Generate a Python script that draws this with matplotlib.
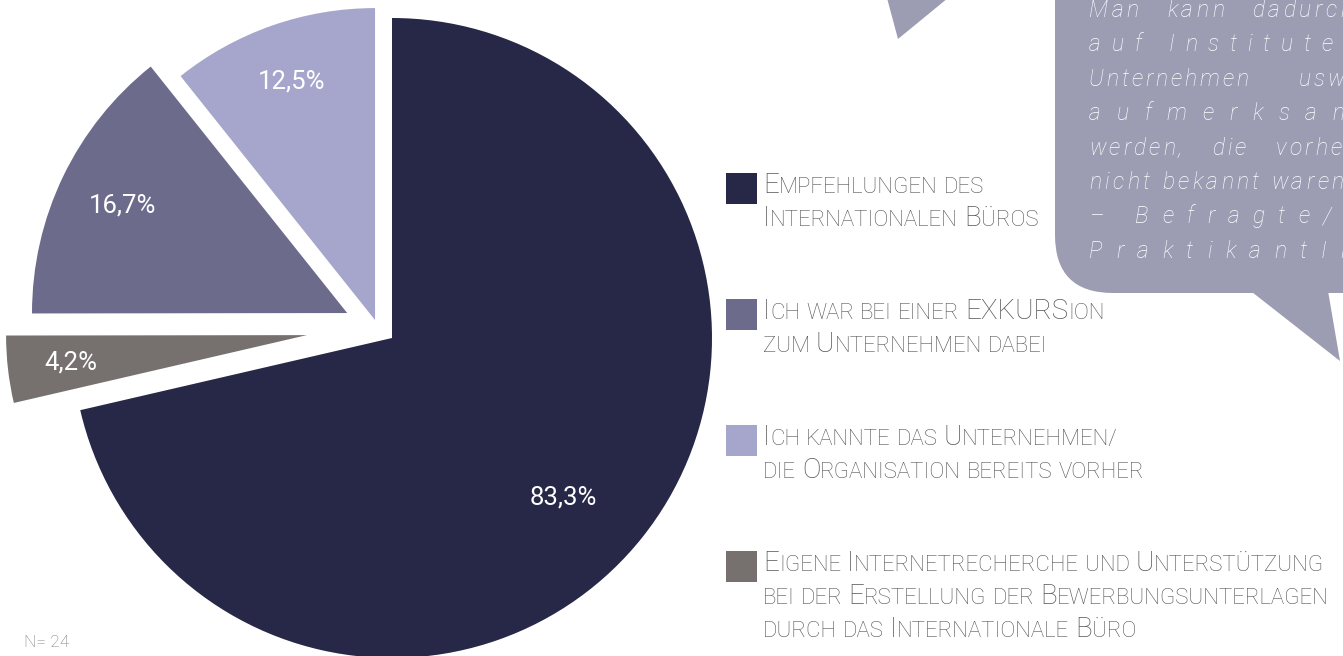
import matplotlib
matplotlib.use("Agg")
import matplotlib.pyplot as plt
from matplotlib.patches import FancyBboxPatch, Polygon, Rectangle
from matplotlib.font_manager import FontProperties
import numpy as np

# ---------------- data ----------------
categories = [
    "Empfehlungen des Internationalen Büros",
    "Ich war bei einer Exkursion zum Unternehmen dabei",
    "Ich kannte das Unternehmen/ die Organisation bereits vorher",
    "Eigene Internetrecherche und Unterstützung bei der Erstellung der "
    "Bewerbungsunterlagen durch das Internationale Büro",
]
# legend lines (upper-case letters are drawn as large capitals, the rest as small capitals)
legend_lines = [
    ["Empfehlungen des", "Internationalen Büros"],
    ["Ich war bei einer EXKURSion", "zum Unternehmen dabei"],
    ["Ich kannte das Unternehmen/", "die Organisation bereits vorher"],
    ["Eigene Internetrecherche und Unterstützung",
     "bei der Erstellung der Bewerbungsunterlagen",
     "durch das Internationale Büro"],
]
values = [83.3, 16.7, 12.5, 4.2]
pie_order = [0, 3, 1, 2]          # clockwise order of the slices from 12 o'clock
sample_note = "N= 24"
quote_lines = ["Man kann dadurch", "auf Institute/", "Unternehmen usw.", "aufmerksam",
               "werden, die vorher", "nicht bekannt waren.", "– Befragte/r", "PraktikantIn"]
quote_modes = ["w", "c", "w", "c", "w", "c", "c", "c"]

# ---------------- style ----------------
colors = ["#272747", "#6c6b8c", "#a6a6cd", "#76716f"]
slice_shift = [(0.0, 0.0), (-0.14, 0.078), (-0.053, 0.056), (-0.266, 0.009)]
slice_radius = [1.0, 0.985, 0.975, 0.94]
label_dist = [0.73, 0.79, 0.81, 0.79]
label_turn = [-4.5, 0, 0, 0]
bubble_col = "#9c9cb3"
legend_txt = "#555555"

W, H = 1343, 656
CX, CY, R = 392, 338, 320

fig = plt.figure(figsize=(W / 100, H / 100), dpi=100)
fig.patch.set_facecolor("white")
renderer = fig.canvas.get_renderer()

# ---------------- pie ----------------
ax = fig.add_axes([0, 0, 1, 1])
wedges, _ = ax.pie([values[i] for i in pie_order],
                   colors=[colors[i] for i in pie_order],
                   startangle=90, counterclock=False,
                   wedgeprops=dict(linewidth=0))
for w, i in zip(wedges, pie_order):
    w.set_center(slice_shift[i])
    w.set_radius(slice_radius[i])
    mid = np.deg2rad((w.theta1 + w.theta2) / 2 + label_turn[i])
    d = label_dist[i] * slice_radius[i]
    lx = slice_shift[i][0] + d * np.cos(mid)
    ly = slice_shift[i][1] + d * np.sin(mid)
    ax.text(lx, ly, f"{values[i]:.1f}%".replace(".", ","), color="white",
            family="Roboto", fontsize=18.5, ha="center", va="center")
ax.set_xlim(-CX / R, (W - CX) / R)
ax.set_ylim((CY - H) / R, CY / R)
ax.set_aspect("auto")
ax.axis("off")

# ---------------- overlay in pixel coordinates ----------------
ax2 = fig.add_axes([0, 0, 1, 1], facecolor="none")
ax2.set_xlim(0, W)
ax2.set_ylim(H, 0)
ax2.axis("off")


def _w(s, fp):
    return renderer.get_text_width_height_descent(s, fp, ismath=False)[0]


def advance(s, fp):
    return _w("|" + s + "|", fp) - _w("||", fp)


# legend
BIG, SMALL = 20.0, 16.0
FP_BIG = FontProperties(family="Roboto", weight="light", size=BIG)
FP_SMALL = FontProperties(family="Roboto", weight="light", size=SMALL)
WORD_EXTRA = 0.5


def draw_smallcaps(x, y, text):
    pen = x
    for k, word in enumerate(text.split(" ")):
        if k:
            pen += advance(" ", FP_SMALL) + WORD_EXTRA
        runs = []
        for c in word:
            big = c.isupper()
            if runs and runs[-1][0] == big:
                runs[-1][1] += c
            else:
                runs.append([big, c])
        for big, run in runs:
            s = run.upper()
            fp = FP_BIG if big else FP_SMALL
            ax2.text(pen, y, s, fontproperties=fp, color=legend_txt,
                     ha="left", va="baseline")
            pen += advance(s, fp)


sq_x, sq_top0, sq_step, sq_size = 726, 173, 126, 31
for k, ci in enumerate(range(len(categories))):
    top = sq_top0 + k * sq_step
    ax2.add_patch(Rectangle((sq_x, top), sq_size, sq_size, color=colors[ci], lw=0))
    for j, line in enumerate(legend_lines[ci]):
        draw_smallcaps(763, top + 20 + j * 33, line)

# speech bubble
ax2.add_patch(FancyBboxPatch((1055, -120), 420, 413,
                             boxstyle="round,pad=0,rounding_size=58",
                             fc=bubble_col, ec="none"))
ax2.add_patch(Polygon([(1243, 285), (1340, 361), (1327, 285)], closed=True,
                      fc=bubble_col, ec="none"))
ax2.add_patch(Polygon([(887, -2), (898, 39), (948, -2)], closed=True,
                      fc=bubble_col, ec="none"))

Q_FP = FontProperties(family="Roboto", weight="light", style="italic", size=16.5)
X0, X1 = 1089, 1352
space_q = advance(" ", Q_FP)
for k, (line, mode) in enumerate(zip(quote_lines, quote_modes)):
    y = 17 + k * 34.4
    x_pos = []
    if mode == "c":
        toks = list(line)
        advs = [advance(t, Q_FP) for t in toks]
        gap = (X1 - X0 - sum(advs)) / (len(toks) - 1)
        pen = X0
        for t, a in zip(toks, advs):
            x_pos.append((pen, t))
            pen += a + gap
    else:
        words = line.split(" ")
        nat = sum(advance(c, Q_FP) for wd in words for c in wd) + space_q * (len(words) - 1)
        nchar = sum(len(wd) - 1 for wd in words)
        extra = X1 - X0 - nat
        track = 0.45 * extra / nchar
        wgap = space_q + 0.55 * extra / (len(words) - 1)
        pen = X0
        for wi, wd in enumerate(words):
            for c in wd:
                x_pos.append((pen, c))
                pen += advance(c, Q_FP) + track
            pen += wgap - track
    for px, t in x_pos:
        if t.strip():
            ax2.text(px, y, t, fontproperties=Q_FP, color="white",
                     ha="left", va="baseline")

# sample size
ax2.text(24, 647, sample_note, fontproperties=FontProperties(family="Roboto", weight="light"),
         fontsize=12.5, color="#7a7a7a", ha="left", va="baseline")

fig.savefig("out.png", dpi=100, facecolor="white")
